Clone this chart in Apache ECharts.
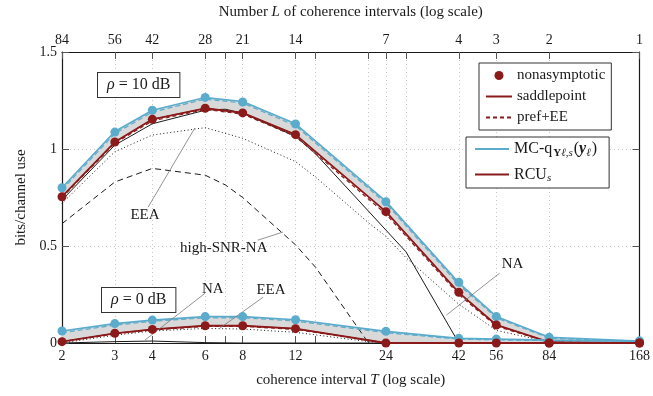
<!DOCTYPE html>
<html>
<head>
<meta charset="utf-8">
<script src="https://cdn.jsdelivr.net/npm/echarts@6/dist/echarts.min.js"></script>
<style>html,body{margin:0;padding:0;background:#fff}#chart{width:653px;height:396px}</style>
</head>
<body>
<div id="chart"></div>
<script>
/*------------- data ------------------*/
var T_MARK = [2, 3, 4, 6, 8, 12, 24, 42, 56, 84, 168];
var T_TICKS = [2, 3, 4, 6, 7, 8, 12, 14, 21, 24, 28, 42, 56, 84, 168];
var T_LABELS = [2, 3, 4, 6, 8, 12, 24, 42, 56, 84, 168];
var L_LABELS = [84, 56, 42, 28, 21, 14, 7, 4, 3, 2, 1];
var N_TOTAL = 168;

// rho = 10 dB
var mcq10   = [0.80, 1.09, 1.20, 1.265, 1.245, 1.13, 0.73, 0.31, 0.137, 0.03, 0.01];
var mcqEE10 = [0.79, 1.08, 1.19, 1.257, 1.237, 1.12, 0.72, 0.30, 0.130, 0.025, 0.008];
var mcqNA10 = [0.80, 1.087, 1.20, 1.266, 1.242, 1.129, 0.728, 0.313, 0.136, 0.029, 0.01];
var rcu10   = [0.755, 1.036, 1.153, 1.21, 1.186, 1.074, 0.677, 0.26, 0.093, 0.005, 0.0];
var rcuEE10 = [0.75, 1.03, 1.145, 1.204, 1.18, 1.065, 0.665, 0.25, 0.087, 0.003, 0.0];
var rcuNA10 = [0.754, 1.036, 1.153, 1.21, 1.186, 1.074, 0.677, 0.261, 0.093, 0.0, 0.0];
var T_NA10 = [2, 3, 4, 6, 7, 8, 12, 14, 28, 42, 168];
var na10   = [0.737, 1.02, 1.13, 1.20, 1.205, 1.185, 1.065, 0.975, 0.47, 0.0, 0.0];
var T_EEA10 = [2, 3, 4, 6, 8, 12, 14, 21, 24, 28, 42, 56, 84, 168];
var eea10   = [0.72, 0.986, 1.072, 1.11, 1.055, 0.935, 0.855, 0.62, 0.55, 0.44, 0.2, 0.065, 0.005, 0.0];
var T_HS10 = [2, 3, 4, 6, 7, 8, 12, 14, 21];
var hs10   = [0.615, 0.83, 0.90, 0.865, 0.815, 0.75, 0.506, 0.39, 0.0];

// rho = 0 dB
var mcq0   = [0.062, 0.10, 0.118, 0.136, 0.136, 0.12, 0.06, 0.024, 0.02, 0.015, 0.01];
var mcqEE0 = [0.053, 0.092, 0.112, 0.130, 0.130, 0.113, 0.053, 0.02, 0.016, 0.012, 0.008];
var mcqNA0 = [0.062, 0.10, 0.118, 0.136, 0.136, 0.12, 0.06, 0.024, 0.02, 0.015, 0.01];
var rcu0   = [0.007, 0.05, 0.07, 0.089, 0.089, 0.074, 0.0, 0.0, 0.0, 0.0, 0.0];
var rcuEE0 = [0.005, 0.047, 0.067, 0.086, 0.086, 0.07, 0.0, 0.0, 0.0, 0.0, 0.0];
var rcuNA0 = [0.007, 0.05, 0.07, 0.089, 0.089, 0.074, 0.0, 0.0, 0.0, 0.0, 0.0];
var T_NA0 = [2, 3, 4, 6, 8, 168];
var na0   = [0.0, 0.007, 0.01, 0.002, 0.0, 0.0];
var T_EEA0 = [2, 3, 4, 6, 8, 12, 21, 24, 168];
var eea0   = [0.0, 0.04, 0.062, 0.075, 0.072, 0.055, 0.007, 0.0, 0.0];

/*------------- helpers ------------------*/
var BLUE = '#5aabcc', RED = '#8b1a1a', GRAY = '#d9d9d9', INK = '#1a1a1a';
var SERIF = '"Liberation Serif","DejaVu Serif",serif';
function lg(t) { return Math.log(t); }
function pts(ts, vs) { return ts.map(function (t, i) { return [lg(t), vs[i]]; }); }

function line(name, ts, vs, color, width, type, z) {
	return {
		name: name, type: 'line', data: pts(ts, vs), symbol: 'none', z: z || 3,
		lineStyle: { color: color, width: width, type: type || 'solid' },
		itemStyle: { color: color }, silent: true
	};
}
function dots(name, vs, color) {
	return {
		name: name, type: 'scatter', data: pts(T_MARK, vs), symbolSize: 9, z: 5,
		itemStyle: { color: color, opacity: 1 }, silent: true
	};
}
// grey band between the MC-q (upper) and RCU_s (lower) curves
function band(name, upper, lower) {
	return {
		name: name, type: 'custom', silent: true, z: 1,
		data: pts(T_MARK, upper),
		renderItem: function (params, api) {
			if (params.dataIndex !== 0) return;
			var top = T_MARK.map(function (t, i) { return api.coord([lg(t), upper[i]]); });
			var bot = T_MARK.map(function (t, i) { return api.coord([lg(t), lower[i]]); }).reverse();
			return { type: 'polygon', shape: { points: top.concat(bot) }, style: { fill: GRAY } };
		}
	};
}
var axisFont = { fontFamily: SERIF, fontSize: 14, color: INK };
var nameRich = { a: { fontFamily: SERIF, fontSize: 15, color: INK }, i: { fontFamily: SERIF, fontSize: 15, color: INK, fontStyle: 'italic' } };

var notes = line('notes', T_NA10, na10, INK, 1, 'solid', 2);
notes.markLine = {
	silent: true, symbol: ['none', 'none'], animation: false,
	lineStyle: { color: '#777', width: 0.8, type: 'solid' }, label: { show: false },
	data: [
		[{ coord: [lg(3.87), 0.70] }, { coord: [lg(5.54), 1.108] }],
		[{ coord: [lg(8.98), 0.53] }, { coord: [lg(10.9), 0.572] }],
		[{ coord: [lg(38.2), 0.144] }, { coord: [lg(57.4), 0.36] }],
		[{ coord: [lg(3.78), 0.015] }, { coord: [lg(5.99), 0.256] }],
		[{ coord: [lg(6.71), 0.076] }, { coord: [lg(9.36), 0.236] }]
	]
};
notes.markPoint = {
	silent: true, symbol: 'circle', symbolSize: 1, itemStyle: { color: 'rgba(0,0,0,0)' }, animation: false,
	label: { show: true, position: 'inside', formatter: '{b}', fontFamily: SERIF, fontSize: 15, color: INK },
	data: [
		{ name: 'EEA', coord: [lg(3.78), 0.66] },
		{ name: 'high-SNR-NA', coord: [lg(6.92), 0.49] },
		{ name: 'NA', coord: [lg(63.4), 0.407] },
		{ name: 'NA', coord: [lg(6.36), 0.278] },
		{ name: 'EEA', coord: [lg(9.94), 0.273] }
	]
};

var series = [
	band('band10', mcq10, rcu10),
	band('band0', mcq0, rcu0),
	notes,
	line('EEA', T_EEA10, eea10, INK, 1, [1, 2.5], 2),
	line('high-SNR-NA', T_HS10, hs10, INK, 1, [6, 4], 2),
	line('NA0', T_NA0, na0, INK, 1, 'solid', 2),
	line('EEA0', T_EEA0, eea0, INK, 1, [1, 2.5], 2),
	line('MC-q', T_MARK, mcq10, BLUE, 1.6),
	line('mcqEE10', T_MARK, mcqEE10, BLUE, 1.2, [5, 3]),
	line('RCU_s', T_MARK, rcu10, RED, 1.8),
	line('saddlepoint', T_MARK, rcu10, RED, 1),
	line('pref+EE', T_MARK, rcuEE10, RED, 1.2, [4, 3]),
	line('MC-q', T_MARK, mcq0, BLUE, 1.6),
	line('mcqEE0', T_MARK, mcqEE0, BLUE, 1.2, [5, 3]),
	line('RCU_s', T_MARK, rcu0, RED, 1.8),
	line('saddlepoint', T_MARK, rcu0, RED, 1),
	line('pref+EE', T_MARK, rcuEE0, RED, 1.2, [4, 3]),
	dots('mcqNA10', mcqNA10, BLUE),
	dots('mcqNA0', mcqNA0, BLUE),
	dots('nonasymptotic', rcuNA10, RED),
	dots('nonasymptotic', rcuNA0, RED)
];

var xMin = lg(T_MARK[0]), xMax = lg(T_MARK[T_MARK.length - 1]);
var tickVals = T_TICKS.map(lg);
var noSym = { opacity: 0 };

var legendBase = {
	orient: 'vertical', selectedMode: false, backgroundColor: '#fff',
	borderColor: '#333', borderWidth: 1, borderRadius: 0,
	itemHeight: 9,
	textStyle: { fontFamily: SERIF, fontSize: 15, color: INK }
};

var chart = echarts.init(document.getElementById('chart'));
chart.setOption({
	animation: false,
	grid: { left: 62, right: 13, top: 52, bottom: 53, containLabel: false },
	xAxis: [{
		type: 'value', position: 'bottom', min: xMin, max: xMax,
		name: '{a|coherence interval }{i|T}{a| (log scale)}', nameLocation: 'middle', nameGap: 30,
		nameTextStyle: { rich: nameRich },
		axisLine: { show: true, onZero: false, lineStyle: { color: INK, width: 1.2 } },
		axisTick: { show: true, inside: true, length: 7, customValues: tickVals, lineStyle: { color: '#555' } },
		axisLabel: Object.assign({ margin: 6, customValues: T_LABELS.map(lg),
			formatter: function (v) { return Math.round(Math.exp(v)); } }, axisFont),
		splitLine: { show: true, lineStyle: { color: '#c8c8c8', type: [1, 3], width: 1 } }
	}, {
		type: 'value', position: 'top', min: xMin, max: xMax,
		name: '{a|Number }{i|L}{a| of coherence intervals (log scale)}', nameLocation: 'middle', nameGap: 32,
		nameTextStyle: { rich: nameRich },
		axisLine: { show: true, onZero: false, lineStyle: { color: INK, width: 1.2 } },
		axisTick: { show: true, inside: true, length: 7, customValues: tickVals, lineStyle: { color: '#555' } },
		axisLabel: Object.assign({ margin: 5, customValues: L_LABELS.map(function (L) { return lg(N_TOTAL / L); }),
			formatter: function (v) { return Math.round(N_TOTAL / Math.exp(v)); } }, axisFont),
		splitLine: { show: false }
	}],
	yAxis: [{
		type: 'value', position: 'left', min: 0, max: 1.5, interval: 0.5,
		name: 'bits/channel use', nameLocation: 'middle', nameGap: 28,
		nameTextStyle: { fontFamily: SERIF, fontSize: 15, color: INK },
		axisLine: { show: true, lineStyle: { color: INK, width: 1.2 } },
		axisTick: { show: true, inside: true, length: 7, lineStyle: { color: '#555' } },
		axisLabel: Object.assign({ margin: 5 }, axisFont),
		splitLine: { show: true, lineStyle: { color: '#c8c8c8', type: [1, 3], width: 1 } }
	}, {
		type: 'value', position: 'right', min: 0, max: 1.5, interval: 0.5,
		axisLine: { show: true, lineStyle: { color: INK, width: 1.2 } },
		axisTick: { show: true, inside: true, length: 7, lineStyle: { color: '#555' } },
		axisLabel: { show: false }, splitLine: { show: false }
	}],
	legend: [
		Object.assign({}, legendBase, {
			left: 479, top: 63, itemWidth: 26, itemGap: 6, padding: [5, 6, 5, 6],
			data: ['nonasymptotic', { name: 'saddlepoint', itemStyle: noSym }, { name: 'pref+EE', itemStyle: noSym }]
		}),
		Object.assign({}, legendBase, {
			left: 466, top: 137, itemWidth: 34, itemGap: 8, padding: [4, 12, 4, 8],
			data: [{ name: 'MC-q', itemStyle: noSym }, { name: 'RCU_s', itemStyle: noSym }],
			formatter: function (name) {
				if (name === 'MC-q') return '{t|MC-q}{sb|Y}{si|ℓ,s}{t|(}{bi|y}{si|ℓ}{t|)}';
				return '{t|RCU}{si|s}';
			},
			textStyle: {
				fontFamily: SERIF, fontSize: 15, color: INK,
				rich: {
					t: { fontFamily: SERIF, fontSize: 16, color: INK },
					sb: { fontFamily: SERIF, fontSize: 11, color: INK, fontWeight: 'bold', padding: [8, 0, 0, 1] },
					si: { fontFamily: SERIF, fontSize: 11, color: INK, fontStyle: 'italic', padding: [8, 1, 0, 0] },
					bi: { fontFamily: SERIF, fontSize: 16, color: INK, fontWeight: 'bold', fontStyle: 'italic' }
				}
			}
		})
	],
	graphic: [{
		type: 'text', left: 97, top: 72, silent: true, z: 100,
		style: {
			text: '{i|ρ}{t| = 10 dB}', backgroundColor: '#fff', borderColor: '#333', borderWidth: 1, padding: [4, 9, 4, 9],
			rich: { i: { fontFamily: SERIF, fontSize: 16, fill: INK, fontStyle: 'italic' }, t: { fontFamily: SERIF, fontSize: 16, fill: INK } }
		}
	}, {
		type: 'text', left: 101, top: 287, silent: true, z: 100,
		style: {
			text: '{i|ρ}{t| = 0 dB}', backgroundColor: '#fff', borderColor: '#333', borderWidth: 1, padding: [4, 9, 4, 9],
			rich: { i: { fontFamily: SERIF, fontSize: 16, fill: INK, fontStyle: 'italic' }, t: { fontFamily: SERIF, fontSize: 16, fill: INK } }
		}
	}],
	series: series
});
</script>
</body>
</html>
